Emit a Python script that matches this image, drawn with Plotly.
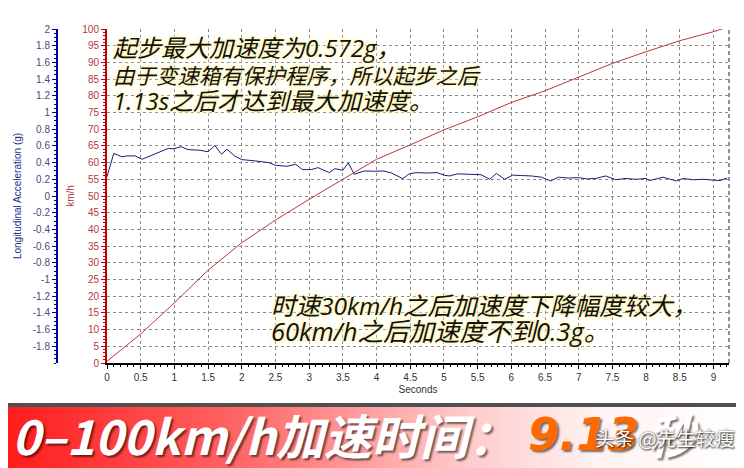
import plotly.graph_objects as go

# ---------------- data ----------------
speed_t = [0, 0.5, 1.0, 1.5, 2.0, 2.5, 3.0, 3.5, 4.0, 4.5, 5.0, 5.5, 6.0, 6.5, 7.0, 7.5, 8.0, 8.5, 9.0, 9.2]
speed_kmh = [0.5, 8.7, 18.0, 27.8, 36.0, 42.8, 49.0, 55.0, 61.0, 65.3, 69.8, 73.7, 78.0, 81.5, 85.7, 89.7, 93.2, 96.5, 99.2, 100.5]

acc_t = [0.00, 0.10, 0.22, 0.30, 0.42, 0.52, 0.64, 0.76, 0.91, 0.98, 1.10, 1.20, 1.38, 1.50, 1.60, 1.70,
         1.78, 1.90, 2.00, 2.20, 2.40, 2.50, 2.67, 2.80, 2.90, 3.03, 3.13, 3.30, 3.38, 3.50, 3.58, 3.67,
         3.82, 3.97, 4.10, 4.22, 4.39, 4.49, 4.60, 4.75, 4.90, 5.00, 5.08, 5.20, 5.40, 5.55, 5.68, 5.78,
         5.90, 6.02, 6.15, 6.30, 6.45, 6.58, 6.70, 6.85, 7.00, 7.12, 7.25, 7.40, 7.55, 7.70, 7.85, 8.00,
         8.05, 8.25, 8.45, 8.55, 8.70, 8.85, 9.00, 9.10, 9.20]
acc_g = [0.23, 0.51, 0.47, 0.48, 0.48, 0.44, 0.48, 0.52, 0.57, 0.565, 0.59, 0.556, 0.548, 0.53, 0.605, 0.50,
         0.56, 0.476, 0.436, 0.42, 0.40, 0.368, 0.356, 0.38, 0.316, 0.316, 0.34, 0.28, 0.328, 0.308, 0.396, 0.26,
         0.30, 0.296, 0.30, 0.276, 0.208, 0.268, 0.28, 0.275, 0.28, 0.25, 0.24, 0.265, 0.26, 0.255, 0.20, 0.27,
         0.20, 0.25, 0.245, 0.24, 0.225, 0.18, 0.225, 0.215, 0.22, 0.205, 0.21, 0.24, 0.195, 0.21, 0.20, 0.21,
         0.185, 0.225, 0.18, 0.21, 0.195, 0.20, 0.19, 0.185, 0.215]

g_tickvals = [-1.8, -1.6, -1.4, -1.2, -1.0, -0.8, -0.6, -0.4, -0.2, 0, 0.2, 0.4, 0.6, 0.8, 1.0, 1.2, 1.4, 1.6, 1.8, 2.0]
g_ticktext = ["-1.8", "-1.6", "-1.4", "-1.2", "-1", "-0.8", "-0.6", "-0.4", "-0.2", "0",
              "0.2", "0.4", "0.6", "0.8", "1", "1.2", "1.4", "1.6", "1.8", "2"]

note1_lines = ["起步最大加速度为0.572g，", "由于变速箱有保护程序，所以起步之后", "1.13s之后才达到最大加速度。"]
note2_lines = ["时速30km/h之后加速度下降幅度较大，", "60km/h之后加速度不到0.3g。"]
banner_label = "0–100km/h加速时间："
banner_value = "9.13"
banner_unit = "秒"
watermark = "头条 @先生较瘦"

# ---------------- geometry helpers (window pixels -> paper) ----------------
# the page body has an 8px margin, so the figure starts at (8, 8) in the window
OFF = 8
W, H = 744 - OFF, 468 - OFF
MT = 29 - OFF
PH = H - MT


def px(x):
    return (x - OFF) / W


def py(y):
    return (H - (y - OFF)) / PH


fig = go.Figure()

# banner background with horizontal gradient
fig.add_trace(go.Scatter(
    x=[0, 1, 1, 0, 0], y=[0, 0, 1, 1, 0], xaxis="x3", yaxis="y3",
    mode="lines", fill="toself", line=dict(width=0),
    fillgradient=dict(type="horizontal",
                      colorscale=[[0, "#ff1c1c"], [0.3, "#ff6262"], [0.6, "#ffc4c4"],
                                  [0.8, "#fff2f2"], [1, "#ffffff"]]),
    hoverinfo="skip", showlegend=False))

fig.add_trace(go.Scatter(x=speed_t, y=speed_kmh, mode="lines", yaxis="y",
                         line=dict(color="#b63a3a", width=1), showlegend=False))
fig.add_trace(go.Scatter(x=acc_t, y=acc_g, mode="lines", yaxis="y2",
                         line=dict(color="#1c1c7c", width=1), showlegend=False))

grid_col = "#8a8a8a"
fig.update_layout(
    width=W, height=H,
    margin=dict(l=0, r=0, t=MT, b=0, autoexpand=False),
    paper_bgcolor="white", plot_bgcolor="white",
    showlegend=False,
    font=dict(family="Liberation Sans, Arial, sans-serif", size=10),
    xaxis=dict(domain=[px(107), px(729)], range=[0, 9.23], anchor="y", automargin=False,
               tick0=0, dtick=0.5, ticks="outside", ticklen=4, tickcolor="black",
               showline=True, linecolor="black", linewidth=2,
               showgrid=True, gridcolor=grid_col, griddash="3px,3px", gridwidth=1,
               zeroline=False, tickfont=dict(size=10, color="#333333"),
               title=dict(text="Seconds", font=dict(size=10, color="#333333"), standoff=4),
               minor=dict(ticks="outside", dtick=0.1, ticklen=2, tickcolor="black", showgrid=False)),
    yaxis=dict(domain=[py(363), 1], range=[0, 100], anchor="x", side="left", automargin=False,
               dtick=5, ticks="outside", ticklen=4, tickcolor="#c00000",
               showline=True, linecolor="#c00000", linewidth=2,
               showgrid=True, gridcolor=grid_col, griddash="3px,3px", gridwidth=1,
               zeroline=False, tickfont=dict(size=10, color="#b03a3a"),
               title=dict(text="km/h", font=dict(size=10, color="#b03a3a"), standoff=6),
               minor=dict(ticks="outside", dtick=1, ticklen=2, tickcolor="#c00000", showgrid=False)),
    yaxis2=dict(overlaying="y", anchor="free", position=px(57), side="left", automargin=False,
                range=[-2, 2], tickmode="array", tickvals=g_tickvals, ticktext=g_ticktext,
                ticks="outside", ticklen=4, tickcolor="#0000a0",
                showline=True, linecolor="#0000a0", linewidth=2,
                showgrid=False, zeroline=False, tickfont=dict(size=10, color="#4a4a7a"),
                title=dict(text="Longitudinal Acceleration (g)", font=dict(size=10, color="#2b2b8f"), standoff=8),
                minor=dict(ticks="outside", tickmode="linear", tick0=0, dtick=0.05, ticklen=2,
                           tickcolor="#0000a0", showgrid=False)),
    xaxis3=dict(domain=[0, 1], range=[0, 1], visible=False, fixedrange=True, anchor="y3", automargin=False),
    yaxis3=dict(domain=[0, py(404)], range=[0, 1], visible=False, fixedrange=True, anchor="x3", automargin=False),
)

shapes = [
    dict(type="line", xref="x domain", yref="y domain", x0=1, x1=1, y0=0, y1=1,
         line=dict(color="#222222", width=1, dash="4px,3px")),
    dict(type="line", xref="paper", yref="paper", x0=0, x1=1, y0=py(405), y1=py(405),
         line=dict(color="#505050", width=4)),
]
fig.update_layout(shapes=shapes)

txt_font = "Open Sans, Noto Sans CJK SC"
cjk = "Noto Sans CJK SC"
glow = "0 0 3px #fff4a8, 0 0 5px #fff4a8, 0 0 7px #fffbe0"
annotations = []
note1_y = [48, 75, 101]
note1_size = [24, 21.5, 24]
for line, yc, sz in zip(note1_lines, note1_y, note1_size):
    annotations.append(dict(text=line, xref="paper", yref="paper", x=px(111), y=py(yc),
                            xanchor="left", yanchor="middle", align="left", showarrow=False,
                            font=dict(family=txt_font, size=sz, color="#111111", style="italic", shadow=glow)))
note2_y = [305, 331]
note2_size = [24.5, 25.5]
for line, yc, sz in zip(note2_lines, note2_y, note2_size):
    annotations.append(dict(text=line, xref="paper", yref="paper", x=px(269), y=py(yc),
                            xanchor="left", yanchor="middle", align="left", showarrow=False,
                            font=dict(family=txt_font, size=sz, color="#111111", style="italic", shadow=glow)))

banner_shadow = "2px 2px 2px rgba(0,0,0,0.55)"
annotations += [
    dict(text=banner_label, xref="paper", yref="paper", x=px(10), y=py(434), xanchor="left", yanchor="middle",
         align="left", showarrow=False,
         font=dict(family=cjk, size=48, color="white", style="italic", weight="bold", shadow=banner_shadow)),
    dict(text=banner_value, xref="paper", yref="paper", x=px(526), y=py(434), xanchor="left", yanchor="middle",
         showarrow=False,
         font=dict(family="DejaVu Sans, " + cjk, size=45, color="#ff6a00", style="italic", weight="bold",
                   shadow=banner_shadow)),
    dict(text=banner_unit, xref="paper", yref="paper", x=px(646), y=py(433), xanchor="left", yanchor="middle",
         showarrow=False,
         font=dict(family=cjk, size=47, color="white", style="italic", weight="bold", shadow=banner_shadow)),
    dict(text=watermark, xref="paper", yref="paper", x=px(737), y=py(437), xanchor="right", yanchor="middle",
         showarrow=False,
         font=dict(family=cjk, size=19.5, color="white",
                   shadow="1px 1px 2px rgba(0,0,0,0.8), 0 0 2px rgba(0,0,0,0.6)")),
]
fig.update_layout(annotations=annotations)

fig.write_html("out.html")
